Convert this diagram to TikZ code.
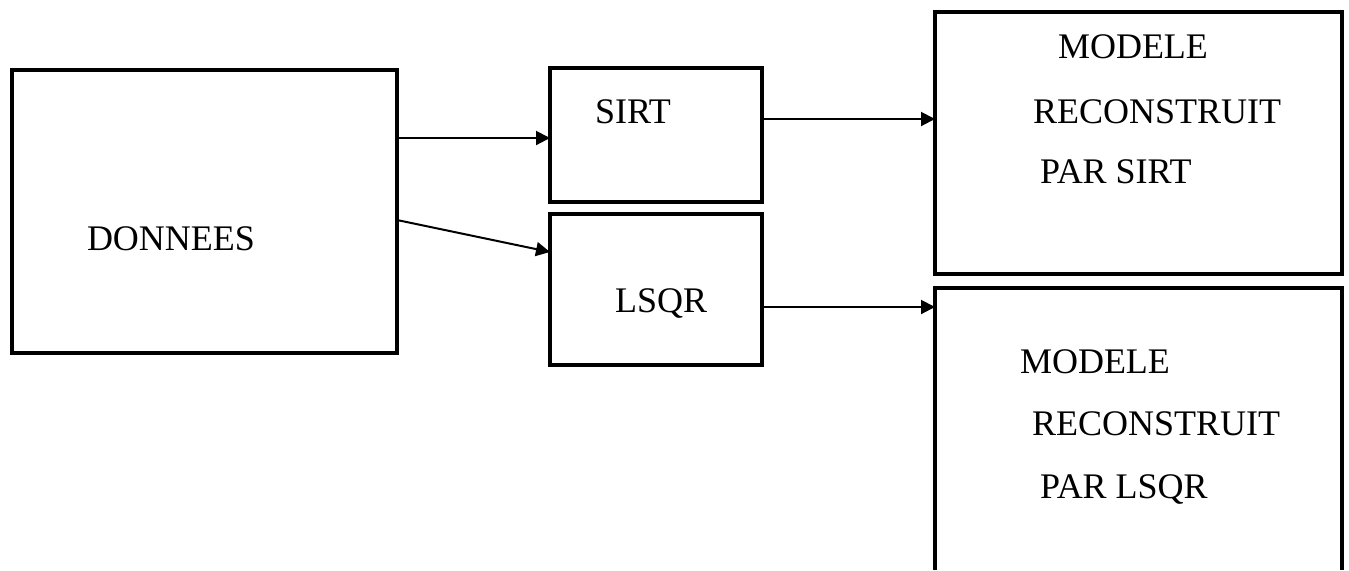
\documentclass[tikz,border=0pt]{standalone}
\usepackage{fontspec}
\setmainfont{Liberation Serif}
\usetikzlibrary{arrows.meta}
\begin{document}
\begin{tikzpicture}[x=0.5pt,y=-0.5pt,
  box/.style={draw=black,line width=1.8pt,inner sep=0pt,outer sep=0pt,anchor=north west},
  openbox/.style={draw=none,inner sep=0pt,outer sep=0pt,anchor=north west},
  lbl/.style={inner sep=0pt,outer sep=0pt,anchor=base west,font=\fontsize{18}{21}\selectfont},
  arr/.style={line width=1pt,-{Triangle[length=7pt,width=7pt]}}]
\useasboundingbox (0,0) rectangle (1349,570);
% boxes
\node[box,minimum width=192.5pt,minimum height=141.5pt] (donnees) at (12,70) {};
\node[box,minimum width=106pt,minimum height=67pt] (sirt) at (550,68) {};
\node[box,minimum width=106pt,minimum height=75.5pt] (lsqr) at (550,214) {};
\node[box,minimum width=203.5pt,minimum height=131pt] (m1) at (935,12) {};
\node[openbox,minimum width=203.5pt,minimum height=141pt] (m2) at (935,288) {};
\draw[line width=1.8pt] (m2.south west) -- (m2.north west) -- (m2.north east) -- (m2.south east);
% labels
\node[lbl] (tdon) at (87,250) {DONNEES};
\node[lbl] (tsirt) at (595,123) {SIRT};
\node[lbl] (tlsqr) at (615,312) {LSQR};
\node[lbl] (tm1a) at (1058,58) {MODELE};
\node[lbl] (tm1b) at (1033,123) {RECONSTRUIT};
\node[lbl] (tm1c) at (1040,183) {PAR SIRT};
\node[lbl] (tm2a) at (1020,373) {MODELE};
\node[lbl] (tm2b) at (1032,435) {RECONSTRUIT};
\node[lbl] (tm2c) at (1040,498) {PAR LSQR};
% connectors
\coordinate (y1) at (0,138);
\coordinate (y2a) at (0,220);
\coordinate (y2b) at (0,252);
\coordinate (y3) at (0,119);
\coordinate (y4) at (0,307);
\draw[arr] (donnees.east |- y1) -- (sirt.west |- y1);
\draw[arr] (donnees.east |- y2a) -- (lsqr.west |- y2b);
\draw[arr] (sirt.east |- y3) -- (m1.west |- y3);
\draw[arr] (lsqr.east |- y4) -- (m2.west |- y4);
\end{tikzpicture}
\end{document}
